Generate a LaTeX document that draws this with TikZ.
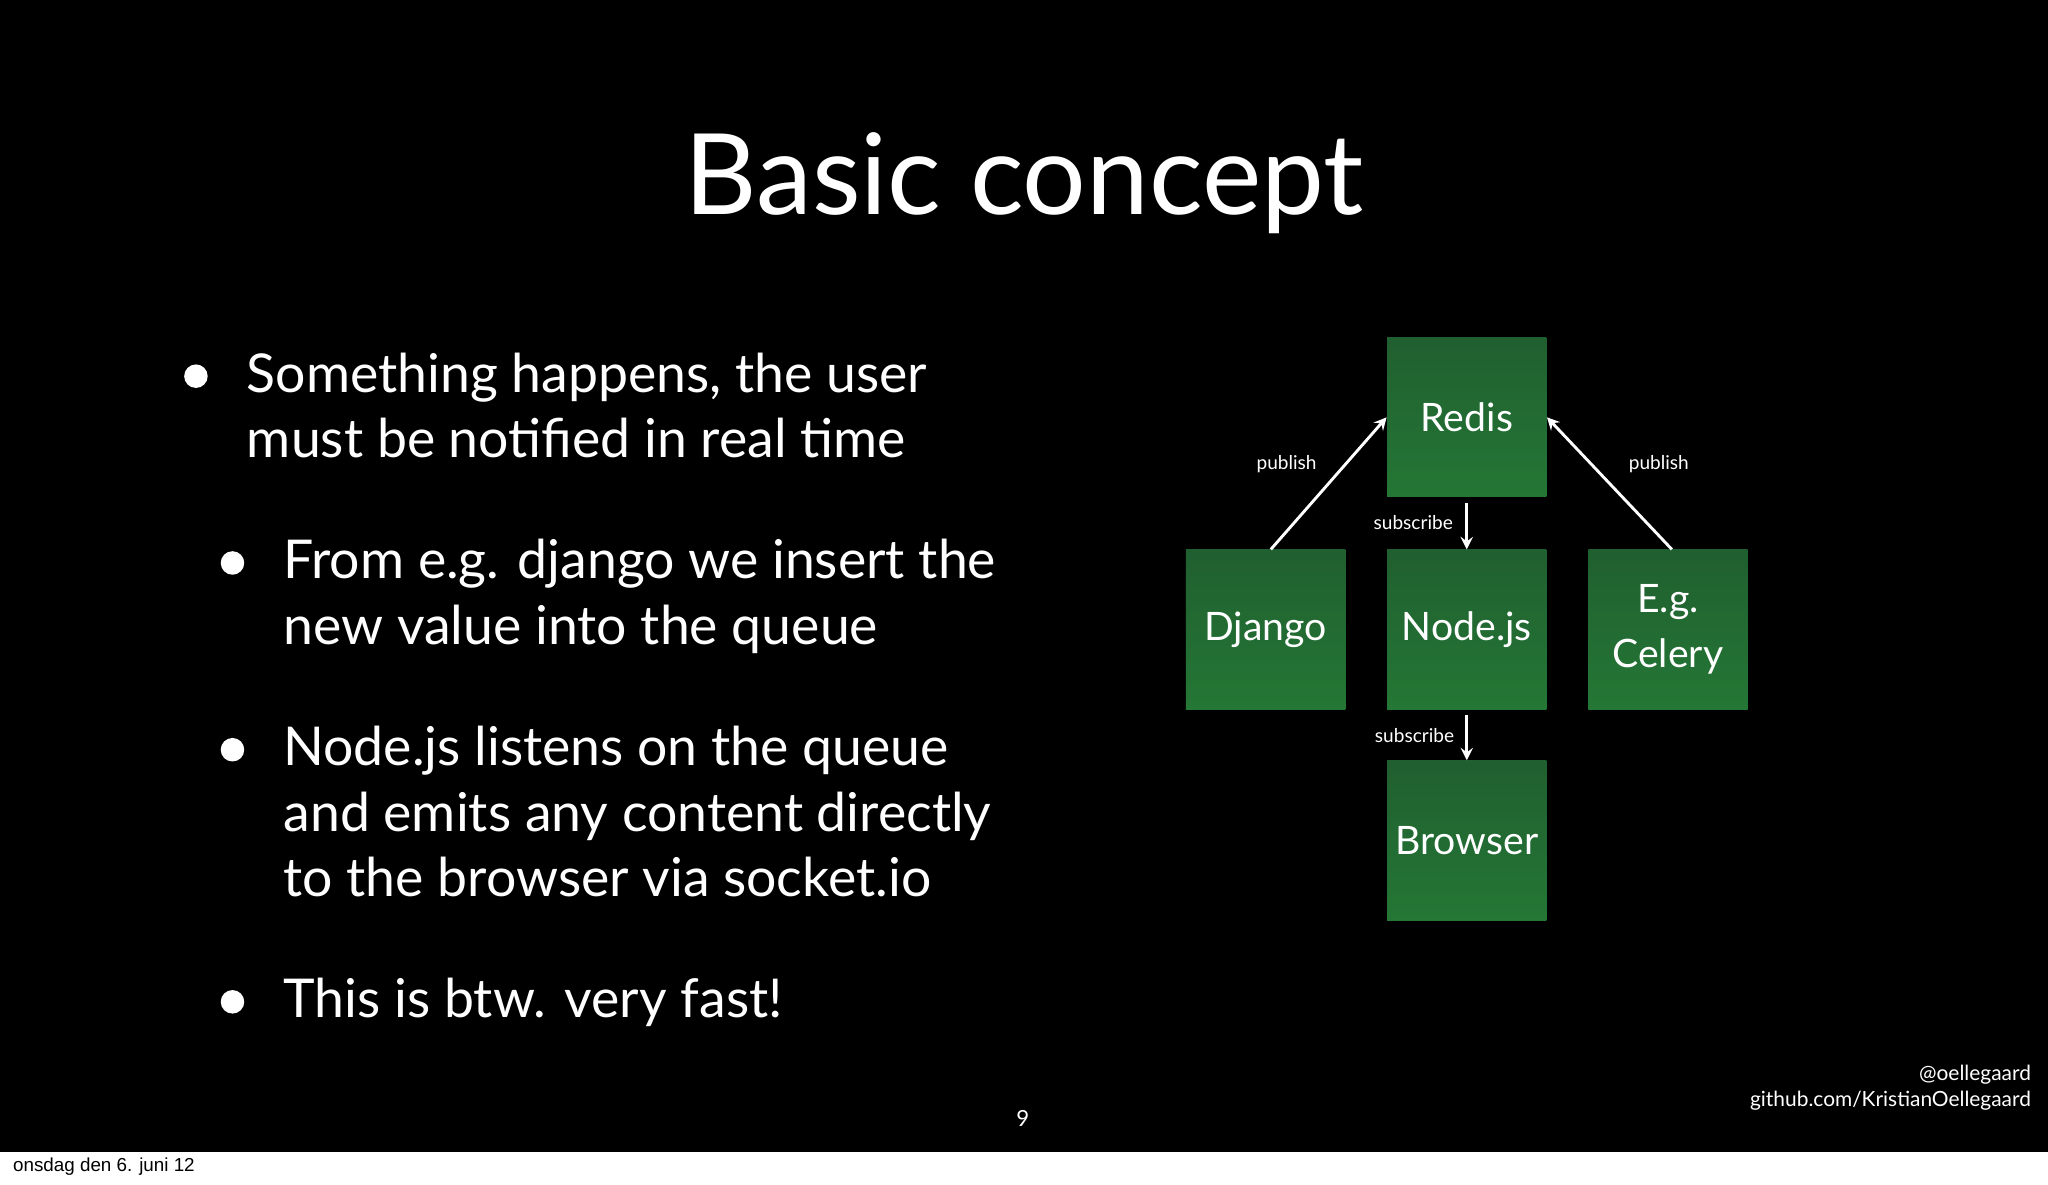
\documentclass[tikz,border=0pt]{standalone}
\usepackage{fontspec}
\setmainfont{Lato}
\newfontfamily\barfont{Liberation Sans}
\definecolor{boxg}{RGB}{38,112,56}
\begin{document}
\begin{tikzpicture}[x=0.5pt,y=-0.5pt,
  box/.style={draw=none,minimum width=61pt,minimum height=61pt,inner sep=0pt,
    top color=boxg!85!black, bottom color=boxg!95!green,text=white,font=\fontsize{15}{17}\selectfont,align=center},
  arr/.style={draw=white,line width=1.1pt,->,>=stealth},
  lbl/.style={text=white,font=\fontsize{7.3}{9}\selectfont},
  bul/.style={text=white,anchor=north west,align=left,font=\fontsize{20.5}{25}\selectfont},
  dot/.style={circle,fill=white,inner sep=0pt,minimum size=9pt}]
\useasboundingbox (0,0) rectangle (1568,906.5);
\fill[black] (0,0) rectangle (1568,882);
\fill[white] (0,882) rectangle (1568,906.5);
\node[text=white,font=\fontsize{43}{48}\selectfont] (title) at (784,140) {Basic concept};
% bullets
\node[dot] (d1) at (150,288) {};
\node[bul] (b1) at (182,263) {Something happens, the user\\must be notified in real time};
\node[dot] (d2) at (178,431) {};
\node[bul] (b2) at (210,406) {From e.g. django we insert the\\new value into the queue};
\node[dot] (d3) at (178,574) {};
\node[bul] (b3) at (210,549) {Node.js listens on the queue\\and emits any content directly\\to the browser via socket.io};
\node[dot] (d4) at (178,767) {};
\node[bul] (b4) at (210,742) {This is btw. very fast!};
% boxes
\node[box] (redis) at (1123,319.5) {Redis};
\node[box] (django) at (969,482) {Django};
\node[box] (node) at (1123,482) {Node.js};
\node[box,font=\fontsize{15}{21}\selectfont] (celery) at (1277,482) {E.g.\\Celery};
\node[box] (browser) at (1123,643.5) {Browser};
\draw[arr] ([xshift=2pt]django.north) -- (redis.west);
\draw[arr] ([xshift=1.5pt]celery.north) -- (redis.east);
\draw[arr] ([yshift=-2pt]redis.south) -- (node.north);
\draw[arr] ([yshift=-2pt]node.south) -- (browser.north);
\node[lbl] (p1) at (985,355) {publish};
\node[lbl] (p2) at (1270,355) {publish};
\node[lbl] (s1) at (1082,400) {subscribe};
\node[lbl] (s2) at (1083,563) {subscribe};
\node[text=white,font=\fontsize{8.5}{10}\selectfont] (num) at (783,856) {9};
\node[text=white,anchor=east,align=right,font=\fontsize{8}{10}\selectfont] (cred) at (1562,833) {@oellegaard\\github.com/KristianOellegaard};
\node[anchor=west,font=\barfont\fontsize{7.2}{9}\selectfont] (date) at (3,893) {onsdag den 6. juni 12};
\end{tikzpicture}
\end{document}
